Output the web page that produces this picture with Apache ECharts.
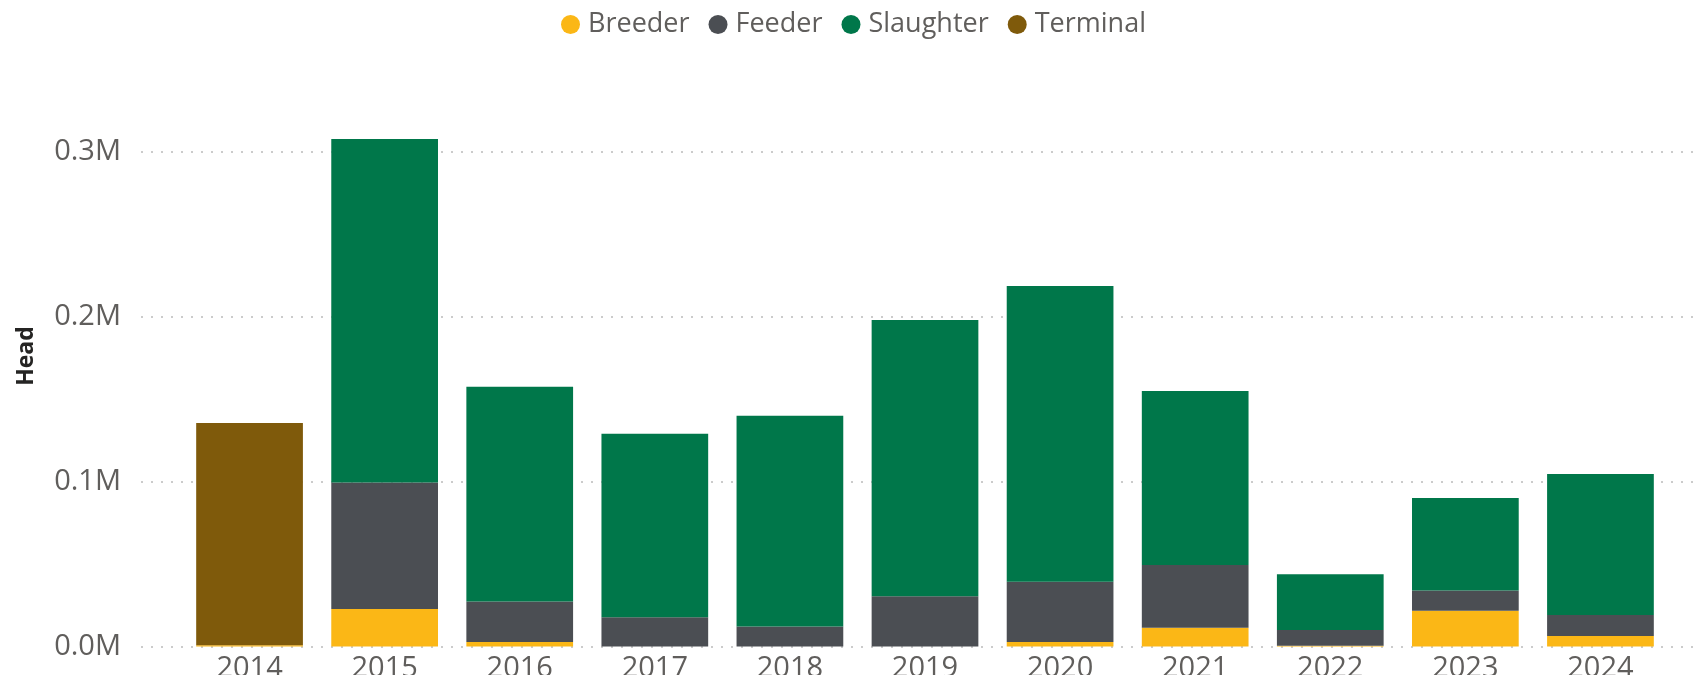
<!DOCTYPE html>
<html>
<head>
<meta charset="utf-8">
<script src="https://cdn.jsdelivr.net/npm/echarts@6/dist/echarts.min.js"></script>
<style>
html,body{margin:0;padding:0;background:#fff;}
#chart{width:1700px;height:675px;}
</style>
</head>
<body>
<div id="chart"></div>
<script>
const years = ['2014','2015','2016','2017','2018','2019','2020','2021','2022','2023','2024'];
const breeder   = [700, 22700, 2700, null, null, null, 2700, 11300, 400, 21700, 6400];
const feeder    = [null, 76700, 24600, 17800, 12100, 30500, 36500, 38100, 9600, 12300, 12700];
const slaughter = [null, 208200, 130100, 111100, 127700, 167400, 179300, 105500, 33800, 56000, 85500];
const terminal  = [134700, null, null, null, null, null, null, null, null, null, null];
const yTicks = [0, 100000, 200000, 300000];

const colors = {Breeder:'#FBB716', Feeder:'#4B4E53', Slaughter:'#00774A', Terminal:'#7F5A0B'};
const font = '"Open Sans", "Noto Sans", sans-serif';
const fmt = v => (v/1e6).toFixed(1) + 'M';

const chart = echarts.init(document.getElementById('chart'));
const gTop = 151.5, gBottom = 28.5;
const mk = (name, data) => ({
  name, type:'bar', stack:'total', data, xAxisIndex:1, yAxisIndex:1,
  barCategoryGap:'21%', clip:false,
  itemStyle:{color:colors[name]},
  emphasis:{disabled:true}
});
chart.setOption({
  animation:false,
  textStyle:{fontFamily:font},
  legend:{
    left:556, top:6, icon:'circle', itemWidth:19, itemHeight:19, itemGap:19,
    textStyle:{fontFamily:font, fontSize:27, color:'#605E5C', padding:[0,0,0,3]},
    data:['Breeder','Feeder','Slaughter','Terminal']
  },
  grid:[
    {left:141, right:2, top:gTop, bottom:gBottom, containLabel:false, outerBoundsMode:'none'},
    {left:182, right:32, top:gTop, bottom:gBottom, containLabel:false, outerBoundsMode:'none'}
  ],
  xAxis:[
    {type:'value', gridIndex:0, show:false, min:0, max:1},
    {type:'category', gridIndex:1, data:years,
     axisLine:{show:false}, axisTick:{show:false},
     axisLabel:{interval:0, fontFamily:font, fontSize:29, color:'#605E5C', margin:8}}
  ],
  yAxis:[
    {type:'value', gridIndex:0, min:yTicks[0], max:yTicks[yTicks.length-1], interval:yTicks[1]-yTicks[0],
     axisLine:{show:false}, axisTick:{show:false},
     axisLabel:{formatter:fmt, fontFamily:font, fontSize:29, color:'#605E5C', margin:20},
     splitLine:{show:true, lineStyle:{color:'#CBCBCB', width:2, type:[2,8]}}},
    {type:'value', gridIndex:1, min:yTicks[0], max:yTicks[yTicks.length-1], interval:yTicks[1]-yTicks[0],
     show:false, splitLine:{show:false}}
  ],
  graphic:[
    {type:'text', x:26, y:356, rotation:Math.PI/2,
     style:{text:'Head', font:'bold 23px "Open Sans", sans-serif', fill:'#252423', align:'center', verticalAlign:'middle'}}
  ],
  series:[
    mk('Breeder', breeder),
    mk('Feeder', feeder),
    mk('Slaughter', slaughter),
    mk('Terminal', terminal)
  ]
});
</script>
</body>
</html>
